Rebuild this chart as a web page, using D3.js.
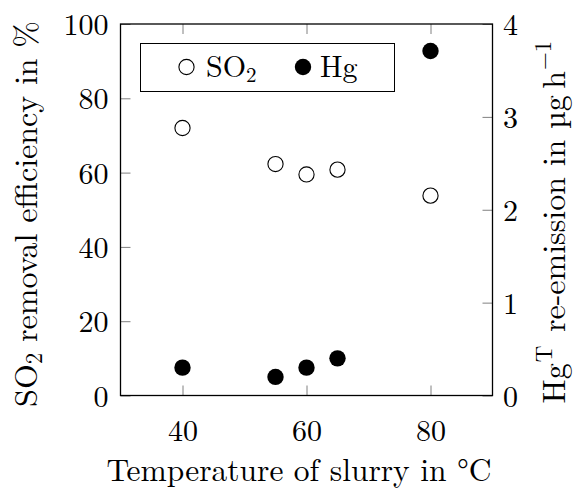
<!DOCTYPE html>
<html><head><meta charset="utf-8">
<script src="https://cdn.jsdelivr.net/npm/d3@7"></script>
<style>
body{margin:0;background:#fff}
svg{display:block}
</style>
</head><body>
<svg id="c" width="573" height="488"></svg>
<script>
// ---- data ----
const temperatures = [40, 55, 60, 65, 80];
const so2Removal   = [72.0, 62.3, 59.5, 60.8, 53.8];
const hgReemission = [0.30, 0.20, 0.30, 0.40, 3.71];
const xTicks = [40, 60, 80];
const yLeftTicks = [0, 20, 40, 60, 80, 100];
const yRightTicks = [0, 1, 2, 3, 4];

// ---- layout ----
const FONT = "'Latin Modern Roman','Liberation Serif',serif";
const L = 120.5, R = 492.5, T = 24, B = 395.5;
const FS = 30, TFS = 31.5, SFS = 21, TSFS = 23;
const svg = d3.select("#c");
const x = d3.scaleLinear().domain([30, 90]).range([L, R]);
const yL = d3.scaleLinear().domain([0, 100]).range([B, T]);
const yR = d3.scaleLinear().domain([0, 4]).range([B, T]);

function styleAxis(g){
  g.attr("font-family", null).attr("font-size", null);
  g.select(".domain").remove();
  g.selectAll(".tick line").attr("stroke", "#808080").attr("stroke-width", 1);
  g.selectAll(".tick text").style("font-family", FONT).style("font-size", FS + "px").attr("fill", "#000");
}
function txt(sel, size){ return sel.style("font-family", FONT).style("font-size", size + "px").attr("fill", "#000"); }

// bottom
const gB = svg.append("g").attr("transform", `translate(0,${B})`)
  .call(d3.axisBottom(x).tickValues(xTicks).tickSize(-10).tickFormat(d3.format("d")));
styleAxis(gB);
gB.selectAll(".tick text").attr("y", 45).attr("dy", null);
// top
const gT = svg.append("g").attr("transform", `translate(0,${T})`)
  .call(d3.axisTop(x).tickValues(xTicks).tickSize(-10).tickFormat(""));
styleAxis(gT);
// left
const gL = svg.append("g").attr("transform", `translate(${L},0)`)
  .call(d3.axisLeft(yL).tickValues(yLeftTicks).tickSize(-10).tickFormat(d3.format("d")));
styleAxis(gL);
gL.selectAll(".tick text").attr("x", -12).attr("dy", null).attr("y", 10.5).attr("text-anchor", "end");
// right
const gR = svg.append("g").attr("transform", `translate(${R},0)`)
  .call(d3.axisRight(yR).tickValues(yRightTicks).tickSize(-10).tickFormat(d3.format("d")));
styleAxis(gR);
gR.selectAll(".tick text").attr("x", 10.5).attr("dy", null).attr("y", 10.5).attr("text-anchor", "start");

// frame
svg.append("rect").attr("x", L).attr("y", T).attr("width", R - L).attr("height", B - T)
  .attr("fill", "none").attr("stroke", "#000").attr("stroke-width", 1.3);

// points
const rows = temperatures.map((t, i) => ({t, so2: so2Removal[i], hg: hgReemission[i]}));
svg.append("g").selectAll("circle").data(rows).join("circle")
  .attr("cx", d => x(d.t)).attr("cy", d => yL(d.so2)).attr("r", 7.6)
  .attr("fill", "#fff").attr("stroke", "#000").attr("stroke-width", 1.1);
svg.append("g").selectAll("circle").data(rows).join("circle")
  .attr("cx", d => x(d.t)).attr("cy", d => yR(d.hg)).attr("r", 8.2)
  .attr("fill", "#000");

// legend
const lg = svg.append("g");
lg.append("rect").attr("x", 140.5).attr("y", 43.5).attr("width", 254).attr("height", 48)
  .attr("fill", "#fff").attr("stroke", "#000").attr("stroke-width", 1);
lg.append("circle").attr("cx", 186.5).attr("cy", 67).attr("r", 7.6)
  .attr("fill", "#fff").attr("stroke", "#000").attr("stroke-width", 1.1);
const t1 = txt(lg.append("text").attr("x", 206).attr("y", 77), FS);
t1.append("tspan").text("SO");
t1.append("tspan").attr("dy", 5).style("font-size", SFS + "px").text("2");
lg.append("circle").attr("cx", 303).attr("cy", 67).attr("r", 8.2).attr("fill", "#000");
txt(lg.append("text").attr("x", 320).attr("y", 77), FS).text("Hg");

// axis titles
txt(svg.append("text").attr("x", 299).attr("y", 480.5).attr("text-anchor", "middle"), TFS)
  .text("Temperature of slurry in °C");

const lt = txt(svg.append("text").attr("transform", "translate(36.5,214) rotate(-90)")
  .attr("text-anchor", "middle"), 32);
lt.append("tspan").text("SO");
lt.append("tspan").attr("dy", 5).style("font-size", TSFS + "px").text("2");
lt.append("tspan").attr("dy", -5).text(" removal efficiency in %");

const rt = txt(svg.append("text").attr("transform", "translate(565,222) rotate(-90)")
  .attr("text-anchor", "middle"), 32);
rt.append("tspan").text("Hg");
rt.append("tspan").attr("dy", -13).attr("dx", 1).style("font-size", TSFS + "px").text("T");
rt.append("tspan").attr("dy", 13).attr("dx", 3).text(" re-emission in µg\u2009h");
rt.append("tspan").attr("dy", -14).attr("dx", 1).style("font-size", TSFS + "px").text("−1");
</script>
</body></html>
